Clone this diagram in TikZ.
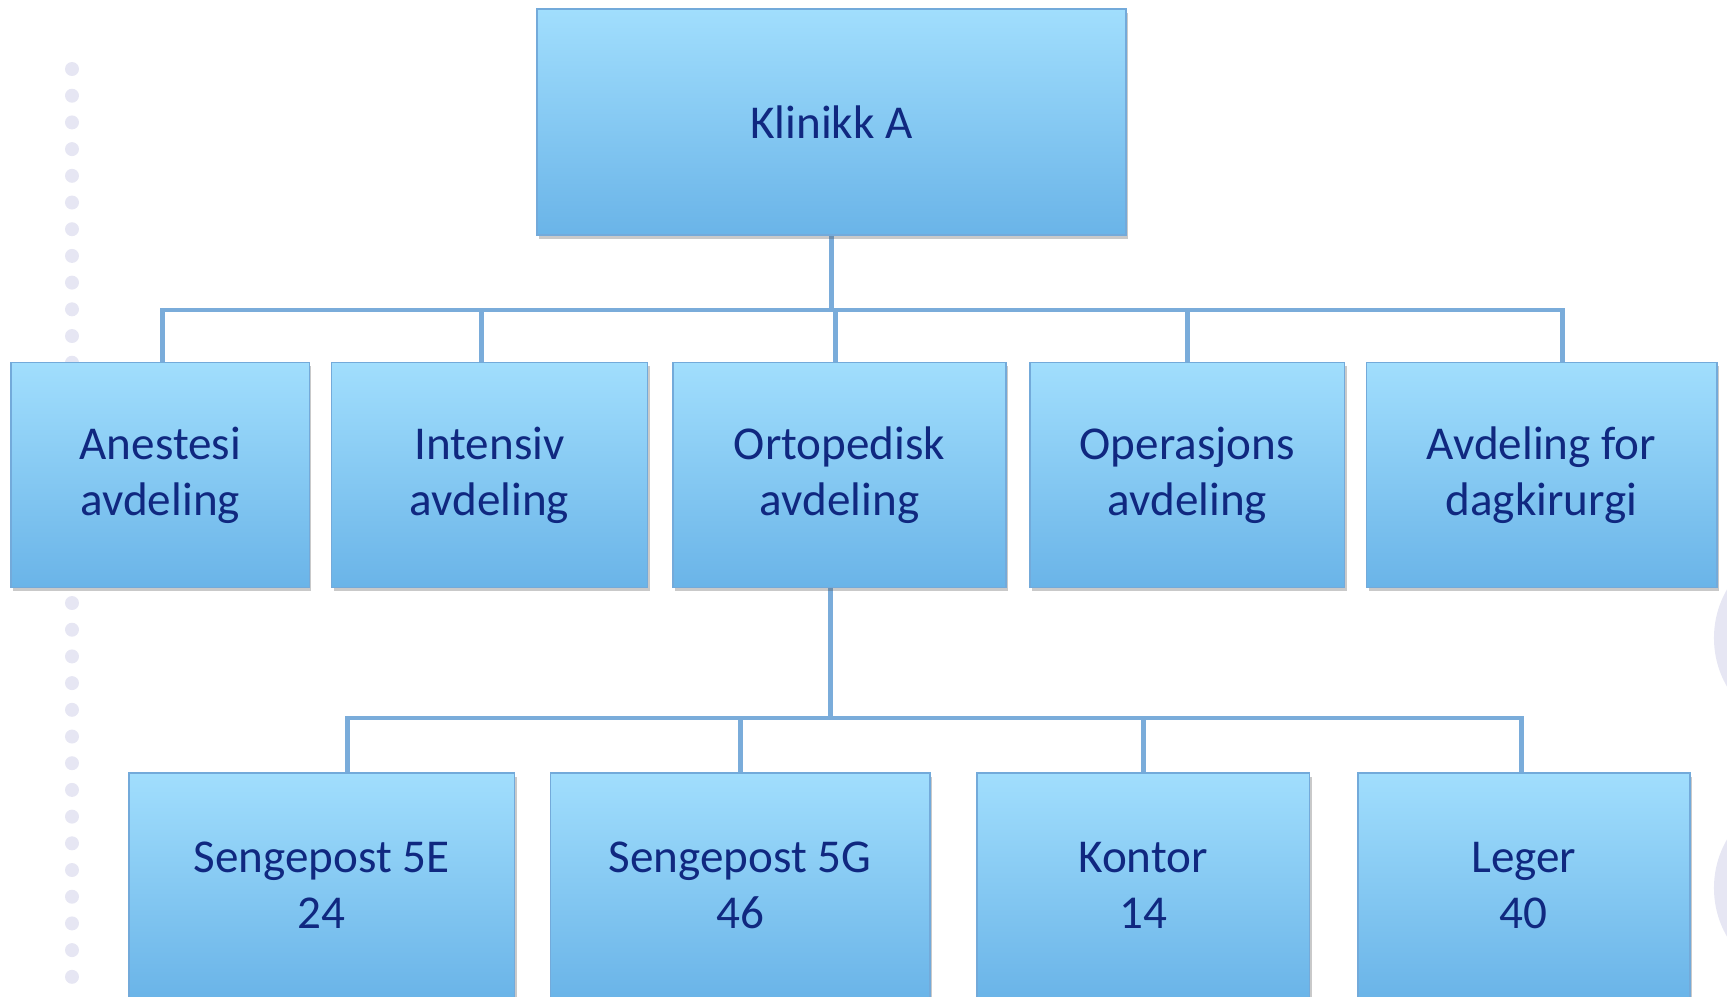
\documentclass[tikz,border=0pt]{standalone}
\usepackage{fontspec}
\setmainfont{Carlito}
\usetikzlibrary{positioning,shadows,backgrounds}

\definecolor{boxtop}{RGB}{161,222,253}
\definecolor{boxbot}{RGB}{106,180,232}
\definecolor{boxline}{RGB}{115,170,218}
\definecolor{linkcol}{RGB}{122,172,218}
\definecolor{textcol}{RGB}{16,40,128}
\definecolor{dotcol}{RGB}{230,230,243}

\begin{document}
\begin{tikzpicture}[x=0.01cm,y=-0.01cm,node distance=0.22cm,
    unit node/.style={rectangle,draw=boxline,line width=0.5pt,top color=boxtop,bottom color=boxbot,
      minimum height=2.25cm,inner sep=0pt,outer sep=0pt,align=center,text=textcol,
      font=\fontsize{13.4}{16}\selectfont,
      drop shadow={shadow xshift=0.6pt,shadow yshift=-1.1pt,opacity=0.3,fill=black!70}},
    link/.style={draw=linkcol,line width=1.4pt,line join=miter}]

    \useasboundingbox (0,0) rectangle (1727,996);
    \clip (0,0) rectangle (1727,996);

    % background dots and circles
    \foreach \k in {0,...,34}
      \fill[dotcol] (72,{69+26.7*\k}) circle (0.07cm);
    \fill[dotcol] (1811,638) circle (0.97cm);
    \fill[dotcol] (1811,888) circle (0.97cm);

    \node[unit node,minimum width=5.88cm,minimum height=2.26cm] (klinikk) at (831.5,122) {Klinikk A};

    \node[unit node,minimum width=2.98cm] (anest) at (160.3,475) {Anestesi\\avdeling};
    \node[unit node,minimum width=3.16cm,right=0.22cm of anest] (intens) {Intensiv\\avdeling};
    \node[unit node,minimum width=3.33cm,right=0.254cm of intens] (orto) {Ortopedisk\\avdeling};
    \node[unit node,minimum width=3.14cm,right=0.24cm of orto] (opera) {Operasjons\\avdeling};
    \node[unit node,minimum width=3.50cm,right=0.22cm of opera] (dag) {Avdeling for\\dagkirurgi};

    \node[unit node,minimum width=3.855cm] (sp5e) at (321.6,885.5) {Sengepost 5E\\24};
    \node[unit node,minimum width=3.79cm,right=0.36cm of sp5e] (sp5g) {Sengepost 5G\\46};
    \node[unit node,minimum width=3.326cm,right=0.47cm of sp5g] (kontor) {Kontor\\14};
    \node[unit node,minimum width=3.315cm,right=0.484cm of kontor] (leger) {Leger\\40};

    \coordinate (bus1) at (831,310);
    \coordinate (bus2) at (830,718);
    \coordinate (d1) at ([xshift=0.02cm]anest.north);
    \coordinate (d2) at ([xshift=-0.08cm]intens.north);
    \coordinate (d3) at ([xshift=-0.04cm]orto.north);
    \coordinate (d4) at (opera.north);
    \coordinate (d5) at ([xshift=0.21cm]dag.north);
    \coordinate (u3) at ([xshift=-0.09cm]orto.south);
    \coordinate (e1) at ([xshift=0.26cm]sp5e.north);
    \coordinate (e2) at (sp5g.north);
    \coordinate (e3) at (kontor.north);
    \coordinate (e4) at ([xshift=-0.02cm]leger.north);

    \begin{scope}[on background layer]
      \draw[link] (klinikk.south) -- (klinikk.south |- bus1);
      \draw[link] (d1) -- (d1 |- bus1) -- (d5 |- bus1) -- (d5);
      \draw[link] (d2) -- (d2 |- bus1);
      \draw[link] (d3) -- (d3 |- bus1);
      \draw[link] (d4) -- (d4 |- bus1);

      \draw[link] (u3) -- (u3 |- bus2);
      \draw[link] (e1) -- (e1 |- bus2) -- (e4 |- bus2) -- (e4);
      \draw[link] (e2) -- (e2 |- bus2);
      \draw[link] (e3) -- (e3 |- bus2);
    \end{scope}
\end{tikzpicture}
\end{document}
